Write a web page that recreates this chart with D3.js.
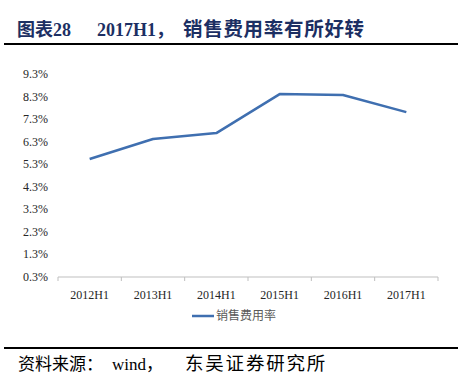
<!DOCTYPE html>
<html><head><meta charset="utf-8">
<script src="https://cdn.jsdelivr.net/npm/d3@7"></script>
<style>
body{margin:0;background:#fff;}
svg{display:block;}
</style></head>
<body>
<svg id="c" width="474" height="385"></svg>
<script>
const categories = ["2012H1","2013H1","2014H1","2015H1","2016H1","2017H1"];
const values = [5.53, 6.42, 6.68, 8.41, 8.37, 7.61];
const yTicks = [0.3,1.3,2.3,3.3,4.3,5.3,6.3,7.3,8.3,9.3];
const seriesName = "销售费用率";
const titleParts = ["图表28", "2017H1，", "销售费用率有所好转"];
const sourceParts = ["资料来源：", "wind，", "东吴证券研究所"];

const svg = d3.select("#c");
const serif = "'Liberation Serif','Times New Roman',serif";
const cjk = "'Liberation Serif','Noto Sans CJK SC',serif";

// title
const tt = svg.append("text").attr("y",36)
  .attr("font-family",cjk).attr("font-weight","bold").attr("font-size",18)
  .attr("fill","#1c2f63");
tt.append("tspan").attr("x",17).text(titleParts[0]);
tt.append("tspan").attr("x",97).text(titleParts[1]);
tt.append("tspan").attr("x",183).attr("font-size",19.5).attr("letter-spacing",0.7).text(titleParts[2]);
svg.append("line").attr("x1",4).attr("x2",458).attr("y1",44).attr("y2",44)
  .attr("stroke","#000").attr("stroke-width",2);

// plot
const x = d3.scaleBand().domain(categories).range([58,438]);
const y = d3.scaleLinear().domain([0.3,9.3]).range([277,74]);

const gx = svg.append("g").attr("transform","translate(0,277)");
gx.append("line").attr("x1",58).attr("x2",438).attr("stroke","#bfbfbf").attr("stroke-width",1);
const bounds = categories.map(c=>x(c)).concat([x.range()[1]]);
gx.selectAll("line.t").data(bounds).enter().append("line").attr("class","t")
  .attr("x1",d=>d).attr("x2",d=>d).attr("y1",0).attr("y2",4)
  .attr("stroke","#bfbfbf");
gx.selectAll("text").data(categories).enter().append("text")
  .attr("x",d=>x(d)+x.bandwidth()/2).attr("y",22)
  .attr("text-anchor","middle").attr("font-family",serif).attr("font-size",12)
  .attr("fill","#262626").text(d=>d);

svg.append("g").selectAll("text").data(yTicks).enter().append("text")
  .attr("x",48).attr("y",d=>y(d)+4)
  .attr("text-anchor","end").attr("font-family",serif).attr("font-size",12)
  .attr("fill","#262626").text(d=>d.toFixed(1)+"%");

const line = d3.line().x((d,i)=>x(categories[i])+x.bandwidth()/2).y(d=>y(d));
svg.append("path").datum(values).attr("d",line)
  .attr("fill","none").attr("stroke","#3f6fb0").attr("stroke-width",2.5)
  .attr("stroke-linejoin","round");

// legend
svg.append("line").attr("x1",192).attr("x2",214).attr("y1",316).attr("y2",316)
  .attr("stroke","#3f6fb0").attr("stroke-width",2.5);
svg.append("text").attr("x",216).attr("y",320)
  .attr("font-family","'Noto Sans CJK SC',sans-serif").attr("font-size",12)
  .attr("fill","#595959").text(seriesName);

// bottom
svg.append("line").attr("x1",4).attr("x2",458).attr("y1",348).attr("y2",348)
  .attr("stroke","#000").attr("stroke-width",2);
const st = svg.append("text").attr("y",370)
  .attr("font-family",cjk).attr("font-size",17).attr("fill","#000");
st.append("tspan").attr("x",18).text(sourceParts[0]);
st.append("tspan").attr("x",112).text(sourceParts[1]);
st.append("tspan").attr("x",185).attr("font-size",18.5).attr("letter-spacing",1.8).text(sourceParts[2]);
</script>
</body></html>
